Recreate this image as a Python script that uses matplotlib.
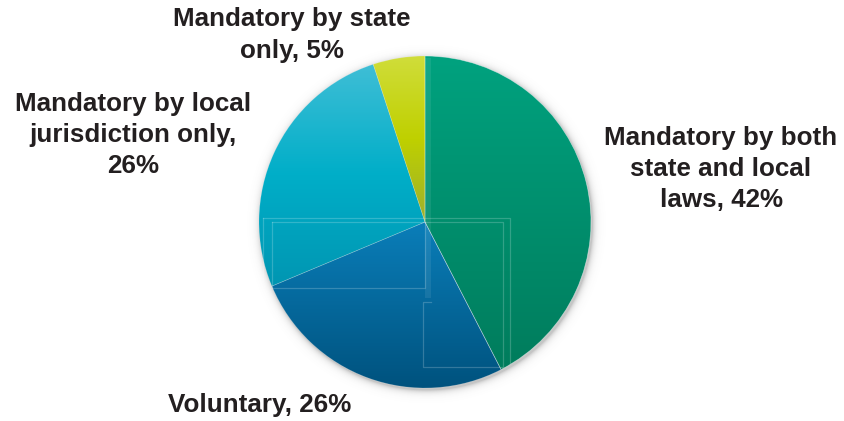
import numpy as np
import matplotlib
matplotlib.use("Agg")
import matplotlib.pyplot as plt
from matplotlib.colors import LinearSegmentedColormap

plt.rcParams['font.family'] = ['Liberation Sans', 'DejaVu Sans']

# Survey shares, clockwise from 12 o'clock
labels = [
    "Mandatory by both\nstate and local\nlaws, 42%",
    "Voluntary, 26%",
    "Mandatory by local\njurisdiction only,\n26%",
    "Mandatory by state\nonly, 5%",
]
shares = [42, 26, 26, 5]

# Vertical gradient stops (top -> bottom) for each slice
gradients = [
    ["#00A27F", "#007C5C"],
    ["#0A7EB9", "#00527E"],
    ["#3FBED6", "#00AEC8", "#0096B2"],
    ["#D0DD3A", "#BFD000", "#9CAF2E"],
]

W, H = 844, 421
fig = plt.figure(figsize=(W / 100, H / 100), dpi=100)
ax = fig.add_axes([0, 0, 1, 1])

cx, cy, r = 425, H - 222, 166

# soft drop shadow around the disc
yy, xx = np.mgrid[0:H, 0:W]
d = np.hypot(xx + 0.5 - (cx + 1.5), (H - yy - 0.5) - (cy - 2.0))
shadow = np.zeros((H, W, 4))
shadow[..., :3] = 0.35
shadow[..., 3] = np.where(d > r, 0.35 * np.exp(-(d - r) / 3.0), 0.35)
ax.imshow(shadow, extent=(0, W, 0, H), origin='upper', aspect='auto', zorder=0)

wedges, _ = ax.pie(shares, center=(cx, cy), radius=r, startangle=90,
                   counterclock=False, frame=True,
                   wedgeprops=dict(linewidth=0))

grad = np.linspace(0, 1, 256).reshape(-1, 1)
for w, stops in zip(wedges, gradients):
    w.set_facecolor('none')
    bb = w.get_path().get_extents()
    cmap = LinearSegmentedColormap.from_list('g', stops)
    im = ax.imshow(grad, cmap=cmap, extent=(bb.x0, bb.x1, bb.y0, bb.y1),
                   origin='upper', aspect='auto', zorder=2,
                   interpolation='bilinear')
    im.set_clip_path(w)

# thin light seams between slices
for i, w in enumerate(wedges):
    w.set_edgecolor((1, 1, 1, 0.5 if i == 0 else 0.2))
    w.set_linewidth(0.5)
    w.set_zorder(3)

# faint leftover frame outlines laid over the disc
seam = dict(color='white', alpha=0.2, lw=0.9, zorder=4)
frames = [
    ([263, 510, 510], [217.7, 217.7, 363]),
    ([263, 263], [217.7, 286.7]),
    ([271.7, 271.7, 425, 425], [221.7, 288, 288, 221.7]),
    ([271.7, 503, 503, 423, 423, 431], [221.7, 221.7, 366.7, 366.7, 301.7, 301.7]),
]
for xs, ys in frames:
    ax.plot(xs, [H - v for v in ys], **seam)
ax.fill_between([425, 431], H - 298, H - 58, color='white', alpha=0.08,
                lw=0, zorder=4)

label_xy = [(721, 169), (260, 405), (133, 135), (292, 35)]
for text, (x, y) in zip(labels, label_xy):
    ax.text(x, H - y, text, ha='center', va='center', fontsize=18.7,
            fontweight='bold', color='#231F20', linespacing=1.38, zorder=5)

ax.set_xlim(0, W)
ax.set_ylim(0, H)
ax.axis('off')
fig.savefig('out.png', dpi=100, facecolor='white')
